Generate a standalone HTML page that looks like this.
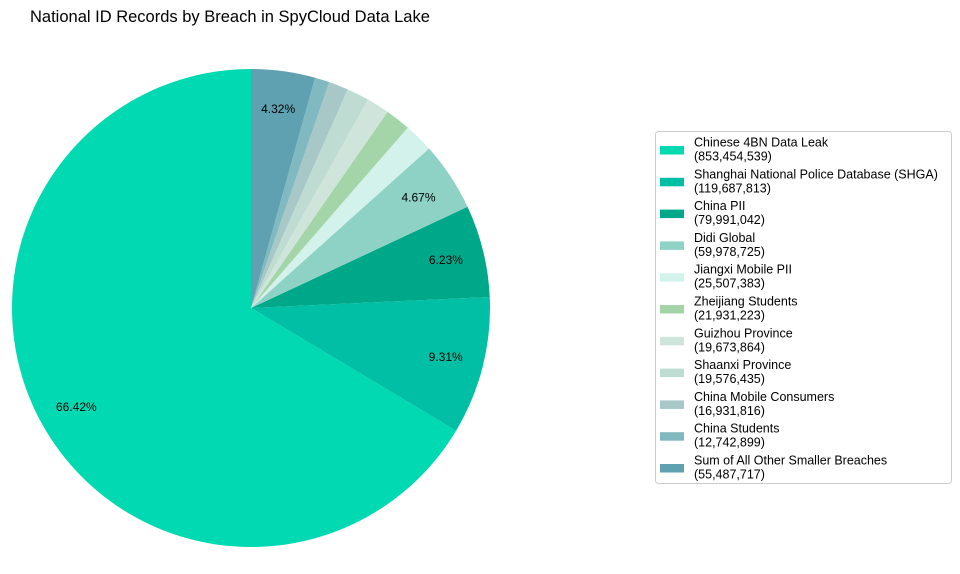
<!DOCTYPE html>
<html><head><meta charset="utf-8"><style>
body{margin:0;background:#fff;width:960px;height:569px;overflow:hidden}
svg{font-family:"Liberation Sans","DejaVu Sans",sans-serif}
</style></head><body>
<svg id="c" width="960" height="569">
<text x="30" y="22" font-size="16.5" fill="#000">National ID Records by Breach in SpyCloud Data Lake</text>
<g id="pie"></g>
<g id="legend"></g>
</svg>
<script>
const categories=["Chinese 4BN Data Leak","Shanghai National Police Database (SHGA)","China PII","Didi Global","Jiangxi Mobile PII","Zheijiang Students","Guizhou Province","Shaanxi Province","China Mobile Consumers","China Students","Sum of All Other Smaller Breaches"];
const values=[853454539,119687813,79991042,59978725,25507383,21931223,19673864,19576435,16931816,12742899,55487717];
const colors=["#00d9b1","#00bfa5","#00a88a","#8ed2c6","#d4f2ec","#a3d5a8","#cfe5dc","#bfdcd2","#a8c8c8","#80b9c0","#5fa1b0"];
const NS="http://www.w3.org/2000/svg";
const cx=251,cy=308,r=239;
const total=values.reduce((a,b)=>a+b,0);
const pie=document.getElementById('pie');
let a=90;
values.forEach((v,i)=>{
  const span=v/total*360;
  const a0=a*Math.PI/180,a1=(a+span)*Math.PI/180;
  const x0=cx+r*Math.cos(a0),y0=cy-r*Math.sin(a0),x1=cx+r*Math.cos(a1),y1=cy-r*Math.sin(a1);
  const p=document.createElementNS(NS,'path');
  p.setAttribute('d',`M${cx},${cy}L${x0},${y0}A${r},${r} 0 ${span>180?1:0} 0 ${x1},${y1}Z`);
  p.setAttribute('fill',colors[i]);
  
  
  pie.appendChild(p);
  const pct=v/total*100;
  if(pct>4){
    const m=(a+span/2)*Math.PI/180;
    const t=document.createElementNS(NS,'text');
    t.setAttribute('x',cx+0.84*r*Math.cos(m));
    t.setAttribute('y',cy-0.84*r*Math.sin(m)+4);
    t.setAttribute('text-anchor','middle');
    t.setAttribute('font-size','12');
    t.textContent=pct.toFixed(2)+'%';
    
    
    pie.appendChild(t);
  }
  a+=span;
});
const lg=document.getElementById('legend');
const box=document.createElementNS(NS,'rect');
box.setAttribute('x',655.5);box.setAttribute('y',131.5);box.setAttribute('width',296);box.setAttribute('height',352);
box.setAttribute('rx',3);box.setAttribute('fill','#fff');box.setAttribute('stroke','#ccc');


lg.appendChild(box);
categories.forEach((c,i)=>{
  const y=146+i*31.8;
  const g=document.createElementNS(NS,'g');
  
  
  const s=document.createElementNS(NS,'rect');
  s.setAttribute('x',660);s.setAttribute('y',y);s.setAttribute('width',24);s.setAttribute('height',8.5);
  s.setAttribute('fill',colors[i]);
  g.appendChild(s);
  const t1=document.createElementNS(NS,'text');
  t1.setAttribute('x',694);t1.setAttribute('y',y+0.5);t1.setAttribute('font-size','12.5');
  t1.textContent=c;g.appendChild(t1);
  const t2=document.createElementNS(NS,'text');
  t2.setAttribute('x',694);t2.setAttribute('y',y+14.5);t2.setAttribute('font-size','12.5');
  t2.textContent='('+values[i].toLocaleString('en-US')+')';g.appendChild(t2);
  lg.appendChild(g);
});
</script>
</body></html>
